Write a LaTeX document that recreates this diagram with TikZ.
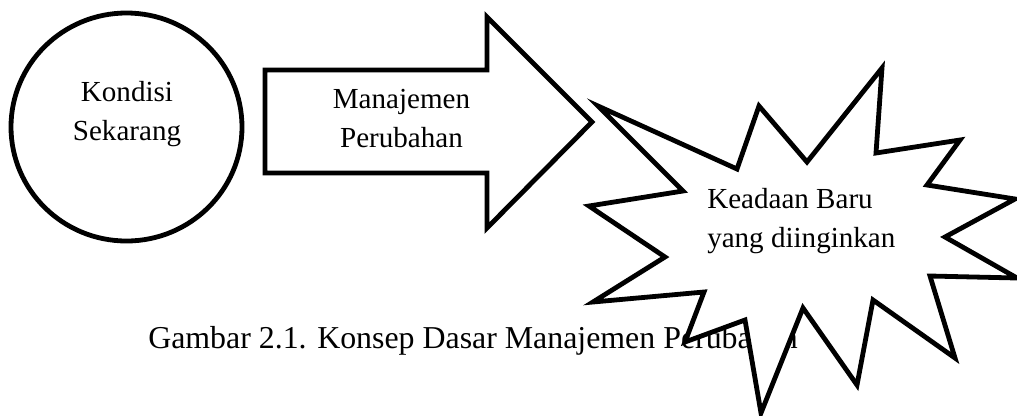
\documentclass[tikz,border=0pt]{standalone}
\usepackage{fontspec}
\setmainfont{Liberation Serif}
\tikzset{
  outline/.style={line width=3.6pt, line join=miter},
  label/.style={font=\fontsize{21.8}{28.9}\selectfont, align=center, inner sep=0pt}
}
\begin{document}
\begin{tikzpicture}[x=0.75pt, y=-0.75pt]
    \useasboundingbox (0, 0) rectangle (1017, 415);
    % kondisi sekarang
    \draw[outline] (126.5, 127) ellipse (115.5 and 114);
    \node[label, anchor=base] (kondisi) at (127, 140) {Kondisi\\Sekarang};
    % panah manajemen
    \draw[outline] (265, 70) -- (487, 70) -- (487, 17) -- (592, 122) -- (487, 228) -- (487, 173) -- (265, 173) -- cycle;
    \node[label, anchor=base] (manajemen) at (401.5, 147) {Manajemen\\Perubahan};
    % keterangan gambar
    \node[label, font=\fontsize{23.9}{28.9}\selectfont, anchor=base west] (caption) at (148, 348) {Gambar 2.1. Konsep Dasar Manajemen Perubahan};
    % keadaan baru
    \filldraw[outline, fill=white] (598, 106) -- (737, 169) -- (759, 106) -- (807, 162) -- (882, 68) -- (876, 153)
      -- (960, 140) -- (927, 185) -- (1015, 199) -- (945, 237) -- (1017, 278) -- (930, 276)
      -- (955, 358) -- (873, 300) -- (857, 385) -- (803, 308) -- (761, 413) -- (745, 320)
      -- (685, 342) -- (704, 292) -- (593, 302) -- (665, 257) -- (589, 206) -- (683, 191) -- cycle;
    \node[label, align=left, anchor=base west] (keadaan) at (707, 247) {Keadaan Baru\\yang diinginkan};
  \end{tikzpicture}
\end{document}
